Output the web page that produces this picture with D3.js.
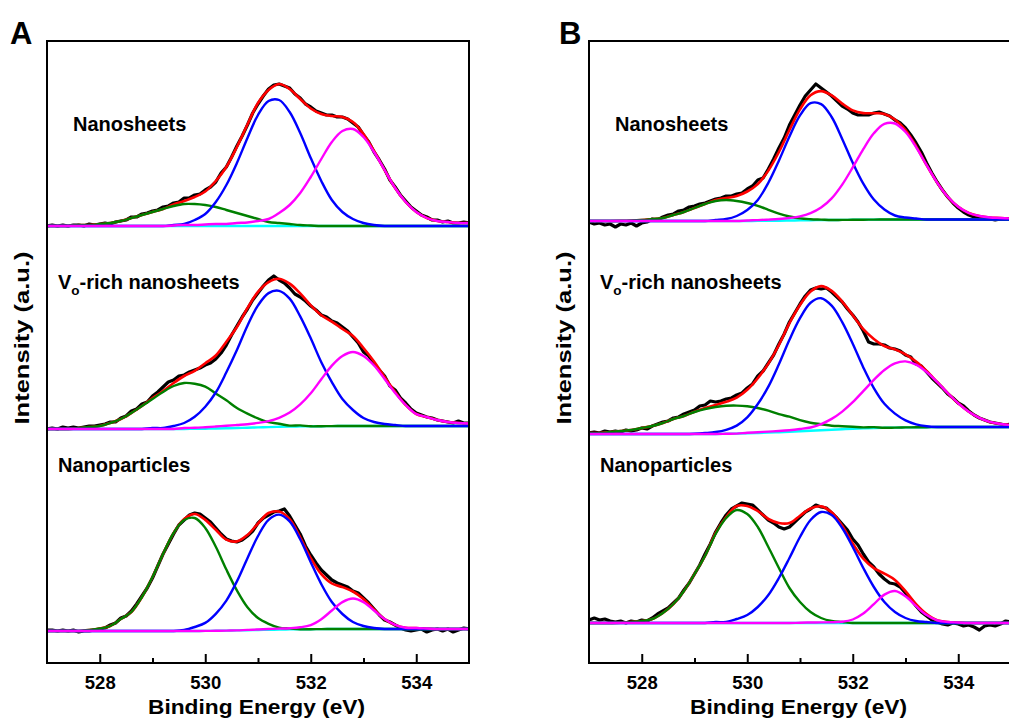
<!DOCTYPE html>
<html>
<head>
<meta charset="utf-8">
<title>O 1s XPS</title>
<script src="https://cdn.jsdelivr.net/npm/d3@7"></script>
<style>
body { margin: 0; background: #fff; }
svg { display: block; }
text { font-family: 'Liberation Sans', Arial, sans-serif; font-weight: bold; fill: #000; }
</style>
</head>
<body>
<div id="chart"></div>
<script>
'use strict';

// whole svg
const SVG_WIDTH = 1009;
const SVG_HEIGHT = 724;

// plot box
const PLOT_TOP = 41;
const PLOT_WIDTH = 422;
const PLOT_HEIGHT = 622;
const PANEL_LEFT = [47, 589];
const LETTER_X = [10, 559];
const Y_MAX = 62.2;

// sample label places
const LABEL_DX = [26, 11, 11];
const LABEL_Y = [131, 289, 472];

const COLORS = {
    raw: '#000000', fit: '#ff0000', bg: '#00ffff',
    lat: '#008000', vac: '#0000ff', ads: '#ff00ff'
};

// ---- data ----
const PANEL_LETTERS = ['A', 'B'];
const SAMPLE_NAMES = ['Nanosheets', 'Vo-rich nanosheets', 'Nanoparticles'];
const X_TICKS = [528, 530, 532, 534];
const X_MINOR_TICKS = [529, 531, 533];
const X_TITLE = 'Binding Energy (eV)';
const Y_TITLE = 'Intensity (a.u.)';

// stacking offsets (a.u.), top to bottom
const OFFSETS_A = [43.7, 23.4, 3.2];
const OFFSETS_B = [44.2, 22.9, 4.0];

// energy grid of fitted curves
const FIT_ENERGY = [
    527.0, 527.2, 527.4, 527.6, 527.8, 528.0, 528.2, 528.4, 528.6, 528.8,
    529.0, 529.2, 529.4, 529.6, 529.8, 530.0, 530.2, 530.4, 530.6, 530.8,
    531.0, 531.2, 531.4, 531.6, 531.8, 532.0, 532.2, 532.4, 532.6, 532.8,
    533.0, 533.2, 533.4, 533.6, 533.8, 534.0, 534.2, 534.4, 534.6, 534.8,
    535.0
];
// energy grid of measured data
const RAW_ENERGY = [
    527.0, 527.1, 527.2, 527.3, 527.4, 527.5, 527.6, 527.7, 527.8, 527.9,
    528.0, 528.1, 528.2, 528.3, 528.4, 528.5, 528.6, 528.7, 528.8, 528.9,
    529.0, 529.1, 529.2, 529.3, 529.4, 529.5, 529.6, 529.7, 529.8, 529.9,
    530.0, 530.1, 530.2, 530.3, 530.4, 530.5, 530.6, 530.7, 530.8, 530.9,
    531.0, 531.1, 531.2, 531.3, 531.4, 531.5, 531.6, 531.7, 531.8, 531.9,
    532.0, 532.1, 532.2, 532.3, 532.4, 532.5, 532.6, 532.7, 532.8, 532.9,
    533.0, 533.1, 533.2, 533.3, 533.4, 533.5, 533.6, 533.7, 533.8, 533.9,
    534.0, 534.1, 534.2, 534.3, 534.4, 534.5, 534.6, 534.7, 534.8, 534.9,
    535.0
];

// A / nanosheets
const A_NS_RAW = [
    0.0, 0.1, 0.0, 0.1, 0.0, 0.1, 0.1, 0.0, 0.2, 0.1,
    0.2, 0.3, 0.2, 0.4, 0.5, 0.6, 0.9, 0.9, 1.2, 1.3,
    1.5, 1.6, 1.9, 2.0, 2.3, 2.4, 2.8, 2.8, 3.1, 3.2,
    3.6, 3.9, 4.4, 5.3, 5.9, 6.9, 8.0, 9.0, 10.1, 11.3,
    12.2, 13.0, 13.7, 14.1, 14.2, 14.0, 13.8, 13.2, 12.8, 12.2,
    11.9, 11.5, 11.3, 11.1, 11.1, 10.9, 10.9, 10.7, 10.3, 9.9,
    9.1, 8.4, 7.4, 6.6, 5.7, 4.6, 3.9, 3.1, 2.5, 1.9,
    1.5, 1.1, 0.9, 0.6, 0.6, 0.4, 0.5, 0.3, 0.3, 0.4,
    0.3
];
const A_NS_FIT = [
    0, 0, 0, 0.1, 0.1, 0.2, 0.3, 0.5, 0.8, 1.1,
    1.4, 1.7, 2.15, 2.5, 2.9, 3.45, 4.5, 5.9, 7.9, 10.15,
    12.3, 13.6, 14.2, 13.7, 12.7, 11.75, 11.2, 11.0, 10.9, 10.4,
    9.2, 7.5, 5.6, 3.8, 2.4, 1.4, 0.8, 0.5, 0.4, 0.3,
    0.3
];
const A_NS_BG = [
    0, 0, 0, 0, 0, 0, 0, 0, 0, 0,
    0, 0, 0, 0, 0, 0, 0, 0, 0, 0,
    0, 0, 0, 0, 0, 0, 0, 0, 0, 0,
    0, 0, 0, 0, 0, 0, 0, 0, 0, 0,
    0
];
const A_NS_LAT = [
    0, 0, 0, 0.1, 0.1, 0.2, 0.3, 0.5, 0.8, 1.1,
    1.4, 1.7, 2.0, 2.2, 2.2, 2.1, 1.9, 1.6, 1.3, 1.0,
    0.7, 0.4, 0.3, 0.2, 0.1, 0.05, 0, 0, 0, 0,
    0, 0, 0, 0, 0, 0, 0, 0, 0, 0,
    0
];
const A_NS_VAC = [
    0, 0, 0, 0, 0, 0, 0, 0, 0, 0,
    0, 0, 0.1, 0.2, 0.6, 1.2, 2.4, 4.1, 6.3, 8.8,
    11.1, 12.5, 12.6, 11.4, 9.3, 6.8, 4.5, 2.6, 1.4, 0.7,
    0.3, 0.1, 0, 0, 0, 0, 0, 0, 0, 0,
    0
];
const A_NS_ADS = [
    0, 0, 0, 0, 0, 0, 0, 0, 0, 0,
    0, 0, 0.05, 0.1, 0.1, 0.15, 0.2, 0.2, 0.3, 0.35,
    0.5, 0.7, 1.3, 2.1, 3.3, 4.9, 6.7, 8.4, 9.5, 9.7,
    8.9, 7.4, 5.6, 3.8, 2.4, 1.4, 0.8, 0.5, 0.4, 0.3,
    0.3
];

// A / Vo-rich nanosheets
const A_VO_RAW = [
    0.0, 0.1, 0.0, 0.2, 0.1, 0.2, 0.1, 0.2, 0.3, 0.3,
    0.4, 0.5, 0.7, 0.7, 1.1, 1.3, 1.8, 2.0, 2.5, 2.7,
    3.3, 3.7, 4.2, 4.7, 4.9, 5.3, 5.4, 5.7, 5.9, 6.1,
    6.4, 6.6, 7.0, 7.6, 8.4, 9.4, 10.3, 11.2, 12.0, 12.9,
    13.6, 14.3, 14.9, 15.3, 14.9, 14.6, 14.1, 13.5, 13.2, 12.8,
    12.3, 11.9, 11.4, 11.2, 10.8, 10.6, 10.2, 9.8, 9.2, 8.6,
    7.7, 7.3, 6.5, 5.9, 5.3, 4.3, 3.9, 3.1, 2.6, 2.0,
    1.6, 1.4, 1.2, 1.1, 0.9, 0.8, 0.7, 0.6, 0.8, 0.6,
    0.6
];
const A_VO_FIT = [
    0, 0, 0, 0.1, 0.2, 0.3, 0.6, 1.0, 1.6, 2.3,
    3.1, 3.8, 4.6, 5.3, 5.82, 6.58, 7.35, 8.72, 10.2, 12.08,
    13.71, 14.69, 15.02, 14.54, 13.56, 12.37, 11.38, 10.74, 10.0, 9.3,
    8.1, 6.75, 5.2, 3.7, 2.4, 1.5, 1.2, 0.9, 0.7, 0.6,
    0.55
];
const A_VO_BG = [
    0, 0, 0, 0, 0, 0, 0, 0, 0, 0,
    0, 0, 0, 0, 0.02, 0.03, 0.05, 0.07, 0.1, 0.13,
    0.16, 0.19, 0.22, 0.24, 0.26, 0.27, 0.28, 0.29, 0.3, 0.3,
    0.3, 0.3, 0.3, 0.3, 0.3, 0.3, 0.3, 0.3, 0.3, 0.3,
    0.3
];
const A_VO_LAT = [
    0, 0, 0, 0.1, 0.2, 0.3, 0.6, 1.0, 1.6, 2.3,
    3.0, 3.7, 4.3, 4.6, 4.5, 4.2, 3.5, 2.8, 2.0, 1.4,
    0.9, 0.5, 0.3, 0.1, 0.1, 0, 0, 0, 0, 0,
    0, 0, 0, 0, 0, 0, 0, 0, 0, 0,
    0
];
const A_VO_VAC = [
    0, 0, 0, 0, 0, 0, 0, 0, 0, 0,
    0.1, 0.1, 0.3, 0.6, 1.2, 2.2, 3.6, 5.6, 7.8, 10.2,
    12.2, 13.4, 13.6, 12.8, 11.0, 8.8, 6.4, 4.4, 2.7, 1.6,
    0.8, 0.4, 0.2, 0.1, 0, 0, 0, 0, 0, 0,
    0
];
const A_VO_ADS = [
    0, 0, 0, 0, 0, 0, 0, 0, 0, 0,
    0, 0, 0, 0.1, 0.1, 0.15, 0.2, 0.25, 0.3, 0.35,
    0.45, 0.6, 0.9, 1.4, 2.2, 3.3, 4.7, 6.05, 7.0, 7.4,
    7.0, 6.05, 4.7, 3.3, 2.1, 1.2, 0.9, 0.6, 0.4, 0.3,
    0.25
];

// A / nanoparticles
const A_NP_RAW = [
    0.1, 0.1, 0.0, 0.1, 0.0, 0.1, -0.1, 0.0, 0.0, 0.1,
    0.2, 0.3, 0.6, 0.8, 1.3, 1.5, 2.0, 2.7, 3.5, 4.3,
    5.3, 6.5, 7.7, 8.7, 9.7, 10.6, 11.1, 11.6, 11.8, 11.7,
    11.3, 10.9, 10.3, 9.7, 9.2, 9.0, 8.9, 9.1, 9.5, 10.0,
    10.8, 11.3, 11.6, 11.9, 12.0, 12.2, 11.5, 10.6, 9.7, 8.5,
    7.6, 6.8, 6.1, 5.6, 5.1, 4.8, 4.6, 4.4, 4.0, 3.8,
    3.3, 2.8, 2.2, 1.6, 1.1, 0.9, 0.6, 0.3, 0.1, 0.0,
    0.1, 0.2, -0.1, 0.1, 0.2, 0.0, 0.2, -0.1, 0.1, 0.3,
    0.2
];
const A_NP_FIT = [
    0, 0, 0, 0, 0.1, 0.25, 0.5, 1.2, 1.9, 3.4,
    5.4, 7.7, 9.8, 11.2, 11.7, 11.11, 10.12, 9.14, 8.96, 9.61,
    10.75, 11.8, 11.94, 11.18, 9.37, 7.29, 5.68, 4.75, 4.39, 3.95,
    3.19, 2.15, 1.19, 0.61, 0.33, 0.3, 0.25, 0.2, 0.2, 0.2,
    0.2
];
const A_NP_BG = [
    0, 0, 0, 0, 0, 0, 0, 0, 0, 0,
    0, 0, 0, 0, 0, 0.01, 0.02, 0.04, 0.06, 0.08,
    0.1, 0.12, 0.14, 0.16, 0.17, 0.18, 0.19, 0.2, 0.2, 0.2,
    0.2, 0.2, 0.2, 0.2, 0.2, 0.2, 0.2, 0.2, 0.2, 0.2,
    0.2
];
const A_NP_LAT = [
    0, 0, 0, 0, 0.1, 0.25, 0.5, 1.2, 1.9, 3.4,
    5.4, 7.7, 9.8, 11.1, 11.3, 10.3, 8.4, 6.1, 4.0, 2.3,
    1.2, 0.6, 0.2, 0.1, 0, 0, 0, 0, 0, 0,
    0, 0, 0, 0, 0, 0, 0, 0, 0, 0,
    0
];
const A_NP_VAC = [
    0, 0, 0, 0, 0, 0, 0, 0, 0, 0,
    0, 0, 0, 0.1, 0.4, 0.8, 1.7, 3.0, 4.9, 7.2,
    9.4, 11.0, 11.5, 10.8, 9.0, 6.7, 4.5, 2.7, 1.5, 0.7,
    0.3, 0.1, 0, 0, 0, 0, 0, 0, 0, 0,
    0
];
const A_NP_ADS = [
    0, 0, 0, 0, 0, 0, 0, 0, 0, 0,
    0, 0, 0, 0, 0, 0, 0, 0, 0, 0.03,
    0.05, 0.08, 0.1, 0.12, 0.2, 0.41, 0.99, 1.85, 2.69, 3.05,
    2.69, 1.85, 0.99, 0.41, 0.13, 0.1, 0.05, 0, 0, 0,
    0
];

// B / nanosheets
const B_NS_RAW = [
    -0.1, -0.3, -0.2, -0.4, -0.3, -0.6, -0.3, -0.4, -0.2, -0.5,
    -0.2, -0.1, 0.2, 0.1, 0.4, 0.6, 0.7, 1.0, 1.1, 1.4,
    1.5, 1.7, 1.8, 2.0, 2.2, 2.3, 2.5, 2.5, 2.7, 2.8,
    3.2, 3.5, 4.1, 4.3, 5.2, 6.2, 7.3, 8.3, 9.6, 10.6,
    11.6, 12.5, 13.1, 13.7, 13.3, 12.9, 12.5, 12.0, 11.5, 11.2,
    10.8, 10.6, 10.6, 10.6, 10.8, 10.9, 10.7, 10.5, 10.1, 9.8,
    9.3, 8.6, 7.8, 6.9, 5.8, 4.8, 3.9, 3.1, 2.4, 1.8,
    1.3, 0.9, 0.6, 0.4, 0.3, 0.2, 0.2, 0.1, 0.2, 0.2,
    0.2
];
const B_NS_FIT = [
    0, 0, 0, 0.01, 0.04, 0.1, 0.2, 0.3, 0.6, 0.9,
    1.3, 1.7, 2.1, 2.3, 2.5, 2.95, 3.69, 5.04, 6.9, 9.1,
    11.16, 12.58, 12.99, 12.56, 11.74, 11.06, 10.79, 10.77, 10.71, 10.15,
    9.1, 7.49, 5.58, 3.84, 2.42, 1.42, 0.8, 0.5, 0.35, 0.3,
    0.25
];
const B_NS_BG = [
    0, 0, 0, 0, 0, 0, 0, 0, 0, 0,
    0, 0, 0, 0, 0, 0, 0.01, 0.02, 0.03, 0.05,
    0.06, 0.08, 0.09, 0.1, 0.11, 0.12, 0.13, 0.14, 0.15, 0.15,
    0.15, 0.15, 0.15, 0.15, 0.15, 0.15, 0.15, 0.15, 0.15, 0.15,
    0.15
];
const B_NS_LAT = [
    0, 0, 0, 0.01, 0.04, 0.1, 0.2, 0.3, 0.6, 0.9,
    1.3, 1.7, 2.0, 2.1, 2.0, 1.8, 1.5, 1.1, 0.7, 0.4,
    0.2, 0.1, 0.05, 0, 0, 0, 0, 0, 0, 0,
    0, 0, 0, 0, 0, 0, 0, 0, 0, 0,
    0
];
const B_NS_VAC = [
    0, 0, 0, 0, 0, 0, 0, 0, 0, 0,
    0, 0, 0.1, 0.2, 0.5, 1.1, 2.1, 3.8, 6.0, 8.4,
    10.5, 11.7, 11.6, 10.3, 8.1, 5.7, 3.6, 2.0, 1.0, 0.4,
    0.2, 0.1, 0, 0, 0, 0, 0, 0, 0, 0,
    0
];
const B_NS_ADS = [
    0, 0, 0, 0, 0, 0, 0, 0, 0, 0,
    0, 0, 0, 0, 0, 0.05, 0.08, 0.12, 0.17, 0.25,
    0.4, 0.7, 1.25, 2.16, 3.53, 5.24, 7.06, 8.63, 9.56, 9.6,
    8.75, 7.24, 5.43, 3.69, 2.27, 1.27, 0.65, 0.35, 0.2, 0.15,
    0.1
];

// B / Vo-rich nanosheets
const B_VO_RAW = [
    0.1, 0.2, 0.1, 0.3, 0.2, 0.3, 0.2, 0.4, 0.3, 0.4,
    0.6, 0.5, 0.8, 1.0, 1.2, 1.3, 1.6, 1.7, 2.0, 2.2,
    2.4, 2.8, 2.9, 3.3, 3.2, 3.3, 3.5, 3.6, 3.9, 4.1,
    4.6, 5.0, 5.8, 6.3, 7.1, 7.9, 9.0, 10.0, 11.2, 12.1,
    13.0, 13.8, 14.4, 14.6, 14.5, 14.6, 14.2, 13.7, 13.2, 12.5,
    11.9, 11.2, 10.3, 9.2, 9.0, 9.0, 8.9, 8.6, 8.5, 8.3,
    7.9, 7.7, 7.0, 6.8, 6.2, 5.6, 5.1, 4.6, 4.0, 3.6,
    3.1, 2.8, 2.3, 1.9, 1.6, 1.4, 1.2, 1.1, 1.0, 0.9,
    1.0
];
const B_VO_FIT = [
    0.1, 0.1, 0.2, 0.3, 0.4, 0.6, 0.8, 1.1, 1.5, 1.8,
    2.23, 2.6, 2.9, 3.22, 3.64, 4.42, 5.58, 7.04, 8.9, 11.08,
    12.9, 14.25, 14.79, 14.31, 13.24, 11.88, 10.49, 9.51, 8.8, 8.46,
    7.96, 7.24, 6.3, 5.2, 4.1, 3.07, 2.23, 1.62, 1.21, 1.0,
    0.9
];
const B_VO_BG = [
    0, 0, 0, 0, 0, 0, 0, 0, 0, 0,
    0, 0, 0, 0.02, 0.04, 0.07, 0.1, 0.14, 0.18, 0.23,
    0.28, 0.33, 0.38, 0.43, 0.48, 0.52, 0.56, 0.59, 0.62, 0.64,
    0.66, 0.67, 0.68, 0.7, 0.7, 0.7, 0.7, 0.7, 0.7, 0.7,
    0.7
];
const B_VO_LAT = [
    0.1, 0.1, 0.2, 0.3, 0.4, 0.6, 0.8, 1.1, 1.5, 1.8,
    2.2, 2.5, 2.7, 2.8, 2.8, 2.7, 2.5, 2.2, 1.8, 1.5,
    1.1, 0.8, 0.6, 0.4, 0.3, 0.2, 0.1, 0.1, 0, 0,
    0, 0, 0, 0, 0, 0, 0, 0, 0, 0,
    0
];
const B_VO_VAC = [
    0, 0, 0, 0, 0, 0, 0, 0, 0, 0,
    0.03, 0.1, 0.2, 0.4, 0.8, 1.6, 2.9, 4.6, 6.8, 9.2,
    11.3, 12.8, 13.2, 12.4, 10.7, 8.5, 6.1, 4.0, 2.4, 1.4,
    0.7, 0.3, 0.1, 0, 0, 0, 0, 0, 0, 0,
    0
];
const B_VO_ADS = [
    0, 0, 0, 0, 0, 0, 0, 0, 0, 0,
    0, 0, 0, 0, 0, 0.05, 0.08, 0.1, 0.12, 0.15,
    0.22, 0.32, 0.61, 1.08, 1.76, 2.66, 3.73, 4.82, 5.78, 6.42,
    6.6, 6.27, 5.52, 4.5, 3.4, 2.37, 1.53, 0.92, 0.51, 0.3,
    0.2
];

// B / nanoparticles
const B_NP_RAW = [
    0.3, 0.5, 0.3, 0.4, 0.2, 0.1, 0.2, 0.0, 0.2, 0.1,
    0.3, 0.2, 0.5, 0.9, 1.2, 1.5, 2.0, 2.5, 3.3, 4.0,
    4.9, 5.8, 6.9, 7.9, 9.1, 10.0, 10.8, 11.4, 11.7, 12.0,
    11.9, 11.8, 11.3, 10.8, 10.3, 10.0, 9.6, 9.4, 9.6, 10.1,
    10.6, 11.1, 11.4, 11.8, 11.6, 11.5, 11.0, 10.5, 9.9, 9.3,
    8.4, 7.8, 6.9, 6.1, 5.6, 4.9, 4.4, 4.0, 3.9, 3.6,
    3.0, 2.4, 1.7, 1.1, 0.7, 0.3, 0.1, -0.1, -0.2, 0.0,
    -0.1, -0.3, -0.2, -0.4, -0.7, -0.3, -0.2, -0.3, -0.1, 0.2,
    0.1
];
const B_NP_FIT = [
    0, 0, 0, 0.02, 0.1, 0.2, 0.4, 1.0, 1.9, 3.2,
    4.9, 6.7, 9.0, 10.6, 11.7, 11.7, 11.2, 10.4, 10.0, 10.0,
    10.73, 11.45, 11.66, 11.07, 9.72, 7.95, 6.44, 5.49, 4.94, 4.3,
    3.18, 1.88, 0.89, 0.27, 0.1, 0.05, 0, 0, 0, 0,
    0
];
const B_NP_BG = [
    0, 0, 0, 0, 0, 0, 0, 0, 0, 0,
    0, 0, 0, 0, 0, 0, 0, 0, 0, 0,
    0, 0, 0, 0, 0, 0, 0, 0, 0, 0,
    0, 0, 0, 0, 0, 0, 0, 0, 0, 0,
    0
];
const B_NP_LAT = [
    0, 0, 0, 0.02, 0.1, 0.2, 0.4, 1.0, 1.9, 3.2,
    4.9, 6.7, 8.9, 10.5, 11.3, 10.9, 9.6, 7.6, 5.5, 3.5,
    2.1, 1.1, 0.5, 0.2, 0.1, 0, 0, 0, 0, 0,
    0, 0, 0, 0, 0, 0, 0, 0, 0, 0,
    0
];
const B_NP_VAC = [
    0, 0, 0, 0, 0, 0, 0, 0, 0, 0,
    0, 0, 0.1, 0.1, 0.4, 0.8, 1.6, 2.8, 4.5, 6.5,
    8.6, 10.3, 11.1, 10.8, 9.5, 7.6, 5.5, 3.6, 2.1, 1.1,
    0.5, 0.2, 0.1, 0, 0, 0, 0, 0, 0, 0,
    0
];
const B_NP_ADS = [
    0, 0, 0, 0, 0, 0, 0, 0, 0, 0,
    0, 0, 0, 0, 0, 0, 0, 0, 0, 0,
    0.03, 0.05, 0.06, 0.07, 0.12, 0.35, 0.94, 1.89, 2.84, 3.2,
    2.68, 1.68, 0.79, 0.27, 0.1, 0.05, 0, 0, 0, 0,
    0
];

// table for drawing
const PANELS = [
    {
        letter: PANEL_LETTERS[0], left: PANEL_LEFT[0], letter_x: LETTER_X[0], offsets: OFFSETS_A,
        spectra: [
            {raw: A_NS_RAW, fit: A_NS_FIT, bg: A_NS_BG, lat: A_NS_LAT, vac: A_NS_VAC, ads: A_NS_ADS},
            {raw: A_VO_RAW, fit: A_VO_FIT, bg: A_VO_BG, lat: A_VO_LAT, vac: A_VO_VAC, ads: A_VO_ADS},
            {raw: A_NP_RAW, fit: A_NP_FIT, bg: A_NP_BG, lat: A_NP_LAT, vac: A_NP_VAC, ads: A_NP_ADS}
        ]
    },
    {
        letter: PANEL_LETTERS[1], left: PANEL_LEFT[1], letter_x: LETTER_X[1], offsets: OFFSETS_B,
        spectra: [
            {raw: B_NS_RAW, fit: B_NS_FIT, bg: B_NS_BG, lat: B_NS_LAT, vac: B_NS_VAC, ads: B_NS_ADS},
            {raw: B_VO_RAW, fit: B_VO_FIT, bg: B_VO_BG, lat: B_VO_LAT, vac: B_VO_VAC, ads: B_VO_ADS},
            {raw: B_NP_RAW, fit: B_NP_FIT, bg: B_NP_BG, lat: B_NP_LAT, vac: B_NP_VAC, ads: B_NP_ADS}
        ]
    }
];

class XpsPanel {
    constructor(top_svg, panel, index)
    {
        this.panel = panel;
        this.index = index;
        this.x = d3.scaleLinear().domain([527, 535]).range([0, PLOT_WIDTH]);
        this.y = d3.scaleLinear().domain([0, Y_MAX]).range([PLOT_HEIGHT, 0]);
        this.top_svg = top_svg;
        this.g = top_svg
            .append('g')
            .attr('transform', `translate(${panel.left},${PLOT_TOP})`)
        ;
    }

    draw()
    {
        this.draw_spectra();
        this.draw_frame();
        this.draw_texts();
    }

    draw_spectra()
    {
        const x = this.x, y = this.y;
        const clip_id = 'clip_' + this.index;
        this.g.append('clipPath').attr('id', clip_id)
            .append('rect')
            .attr('x', 0).attr('y', 0)
            .attr('width', PLOT_WIDTH).attr('height', PLOT_HEIGHT)
        ;
        const plot = this.g.append('g').attr('clip-path', `url(#${clip_id})`);

        const smooth = d3.line()
            .x((d, i) => x(FIT_ENERGY[i]))
            .y(d => y(d))
            .curve(d3.curveCatmullRom.alpha(0.5))
        ;
        const rough = d3.line()
            .x((d, i) => x(RAW_ENERGY[i]))
            .y(d => y(d))
        ;

        this.panel.spectra.forEach((s, k) => {
            const off = this.panel.offsets[k];
            const add = arr => arr.map((v, i) => off + s.bg[i] + v);

            // measured
            plot.append('path')
                .attr('d', rough(s.raw.map(v => off + v)))
                .attr('fill', 'none').attr('stroke', COLORS.raw)
                .attr('stroke-width', 3.2).attr('stroke-linejoin', 'round')
            ;
            // envelope
            plot.append('path')
                .attr('d', smooth(s.fit.map(v => off + v)))
                .attr('fill', 'none').attr('stroke', COLORS.fit)
                .attr('stroke-width', 2.6)
            ;
            // background
            plot.append('path')
                .attr('d', smooth(s.bg.map(v => off + v)))
                .attr('fill', 'none').attr('stroke', COLORS.bg)
                .attr('stroke-width', 2.4)
            ;
            // components
            ['lat', 'vac', 'ads'].forEach(key => {
                plot.append('path')
                    .attr('d', smooth(add(s[key])))
                    .attr('fill', 'none').attr('stroke', COLORS[key])
                    .attr('stroke-width', 2.4)
                ;
            });
        });
    }

    draw_frame()
    {
        const x = this.x;
        this.g.append('rect')
            .attr('x', 0).attr('y', 0)
            .attr('width', PLOT_WIDTH).attr('height', PLOT_HEIGHT)
            .attr('fill', 'none').attr('stroke', '#000').attr('stroke-width', 2)
        ;

        // major ticks, inside
        const major = this.g.append('g')
            .attr('transform', `translate(0,${PLOT_HEIGHT})`)
            .call(d3.axisBottom(x).tickValues(X_TICKS).tickSize(-9).tickPadding(13).tickFormat(d3.format('d')))
        ;
        major.select('.domain').remove();
        major.selectAll('line').attr('stroke-width', 2);
        major.selectAll('text')
            .attr('font-size', 18.5)
            .attr('font-family', "'Liberation Sans', Arial, sans-serif")
            .attr('font-weight', 'bold')
            .attr('fill', '#000')
        ;

        // minor ticks
        const minor = this.g.append('g')
            .attr('transform', `translate(0,${PLOT_HEIGHT})`)
            .call(d3.axisBottom(x).tickValues(X_MINOR_TICKS).tickSize(-5).tickFormat(''))
        ;
        minor.select('.domain').remove();
        minor.selectAll('line').attr('stroke-width', 2);
    }

    draw_texts()
    {
        const left = this.panel.left;

        // panel letter
        this.top_svg.append('text')
            .text(this.panel.letter)
            .attr('x', this.panel.letter_x)
            .attr('y', 44)
            .attr('font-size', 31)
        ;

        // axis titles
        this.top_svg.append('text')
            .text(X_TITLE)
            .attr('x', left + 209.5)
            .attr('y', 714)
            .attr('text-anchor', 'middle')
            .attr('font-size', 20)
            .attr('textLength', 217)
            .attr('lengthAdjust', 'spacingAndGlyphs')
        ;
        this.top_svg.append('text')
            .text(Y_TITLE)
            .attr('transform', `translate(${left - 18.5},338) rotate(-90)`)
            .attr('text-anchor', 'middle')
            .attr('font-size', 21)
            .attr('textLength', 173)
            .attr('lengthAdjust', 'spacingAndGlyphs')
        ;

        // sample names
        SAMPLE_NAMES.forEach((name, k) => {
            const t = this.top_svg.append('text')
                .attr('x', left + LABEL_DX[k])
                .attr('y', LABEL_Y[k])
                .attr('font-size', 20)
            ;
            if (name.startsWith('Vo')) {
                t.append('tspan').text('V');
                t.append('tspan').text('o').attr('font-size', 13.5).attr('dy', 6);
                t.append('tspan').text(name.slice(2)).attr('dy', -6);
            } else {
                t.text(name);
            }
        });
    }
}

const svg = d3.select('#chart')
    .append('svg')
    .attr('width', SVG_WIDTH)
    .attr('height', SVG_HEIGHT)
;
PANELS.forEach((p, i) => new XpsPanel(svg, p, i).draw());
</script>
</body>
</html>
